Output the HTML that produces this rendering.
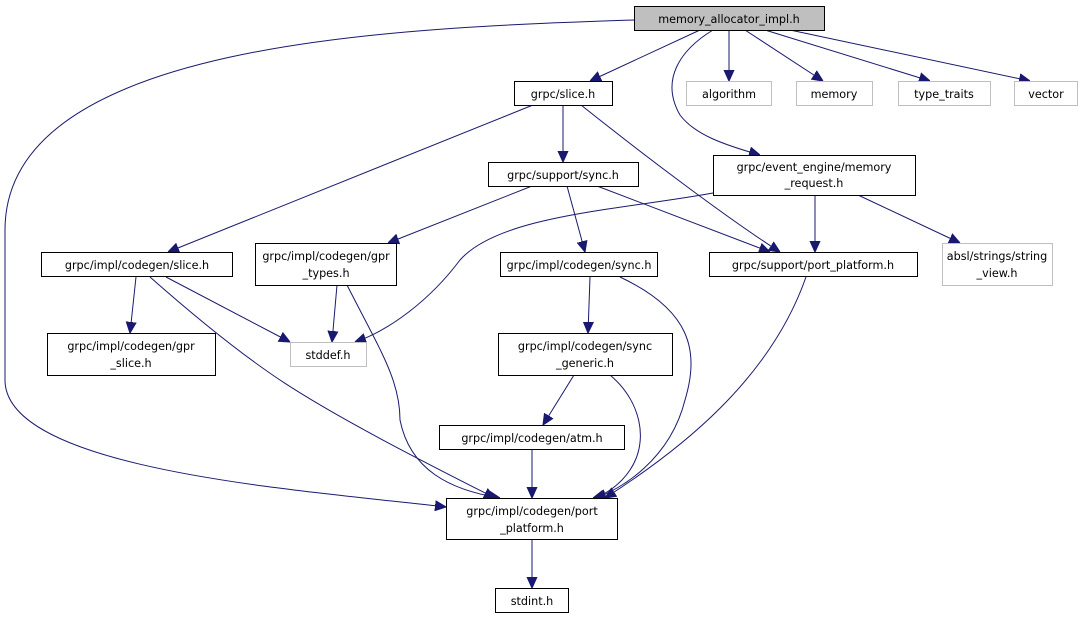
<!DOCTYPE html>
<html><head><meta charset="utf-8"><style>
html,body{margin:0;padding:0;background:#fff;}
svg{display:block}
text{font-family:"DejaVu Sans","Liberation Sans",sans-serif;font-size:11.2px;fill:#000;text-anchor:middle}
.b{fill:#fff;stroke:#000;stroke-width:1}
.g{fill:#fff;stroke:#bfbfbf;stroke-width:1}
.e{fill:none;stroke:#191970;stroke-width:1}
</style></head><body>
<svg width="1087" height="619" viewBox="0 0 1087 619">
<defs><marker id="a" viewBox="0 0 10 10" refX="10" refY="5" markerWidth="11" markerHeight="11" markerUnits="userSpaceOnUse" orient="auto"><path d="M0,0.5 L10,5 L0,9.5 z" fill="#191970" stroke="#191970"/></marker></defs>
<g class="e" marker-end="url(#a)">
<path d="M634,20 C400,28 5,40 5,230 V380 C5,470 300,490 446,507"/>
<path d="M700,30 L590,81"/>
<path d="M713,30 C680,50 660,80 680,115 C695,135 725,145 760,155"/>
<path d="M729,30 V81"/>
<path d="M745,30 L823,81"/>
<path d="M765,30 L930,81"/>
<path d="M790,30 L1030,81"/>
<path d="M563,105 V162"/>
<path d="M533,105 L168,252"/>
<path d="M581,105 C650,160 730,220 780,252"/>
<path d="M532,186 L388,243"/>
<path d="M567,186 L585,252"/>
<path d="M597,186 L770,252"/>
<path d="M713,193 C620,210 500,215 460,260 C430,300 390,330 355,342"/>
<path d="M815,195 V252"/>
<path d="M858,195 L960,243"/>
<path d="M136,277 L130,333"/>
<path d="M166,277 L290,342"/>
<path d="M150,277 C210,330 250,360 280,380 C340,420 440,470 495,498"/>
<path d="M337,285 L332,342"/>
<path d="M347,285 C380,350 400,380 400,420 C410,470 450,490 500,498"/>
<path d="M590,277 L588,333"/>
<path d="M620,277 C690,310 700,350 685,400 C670,460 620,490 595,498"/>
<path d="M806,277 C770,380 680,450 605,498"/>
<path d="M574,375 L543,425"/>
<path d="M610,375 C640,400 650,440 630,470 C620,485 605,495 593,498"/>
<path d="M532,449 V498"/>
<path d="M532,539 V588"/>
</g>
<rect x="634.5" y="6.5" width="190" height="24" fill="#bfbfbf" stroke="#000"/>
<text x="729" y="23">memory_allocator_impl.h</text>
<rect class="b" x="514.5" y="81.5" width="98" height="24"/><text x="563" y="98">grpc/slice.h</text>
<rect class="g" x="686.5" y="81.5" width="85" height="24"/><text x="729" y="98">algorithm</text>
<rect class="g" x="796.5" y="81.5" width="76" height="24"/><text x="834" y="98">memory</text>
<rect class="g" x="898.5" y="81.5" width="92" height="24"/><text x="944" y="98">type_traits</text>
<rect class="g" x="1014.5" y="81.5" width="63" height="24"/><text x="1046" y="98">vector</text>
<rect class="b" x="488.5" y="162.5" width="150" height="24"/><text x="563" y="179">grpc/support/sync.h</text>
<rect class="b" x="713.5" y="155.5" width="202" height="40"/><text x="814" y="171">grpc/event_engine/memory</text><text x="814" y="187">_request.h</text>
<rect class="b" x="41.5" y="252.5" width="191" height="24"/><text x="137" y="269">grpc/impl/codegen/slice.h</text>
<rect class="b" x="255.5" y="243.5" width="141" height="42"/><text x="326" y="260">grpc/impl/codegen/gpr</text><text x="326" y="277">_types.h</text>
<rect class="b" x="500.5" y="252.5" width="157" height="24"/><text x="579" y="269">grpc/impl/codegen/sync.h</text>
<rect class="b" x="709.5" y="252.5" width="208" height="24"/><text x="813" y="269">grpc/support/port_platform.h</text>
<rect class="g" x="942.5" y="243.5" width="110" height="42"/><text x="997" y="260">absl/strings/string</text><text x="997" y="277">_view.h</text>
<rect class="b" x="47.5" y="333.5" width="168" height="42"/><text x="131" y="350">grpc/impl/codegen/gpr</text><text x="131" y="367">_slice.h</text>
<rect class="g" x="290.5" y="342.5" width="76" height="24"/><text x="328" y="359">stddef.h</text>
<rect class="b" x="498.5" y="333.5" width="174" height="42"/><text x="585" y="350">grpc/impl/codegen/sync</text><text x="585" y="367">_generic.h</text>
<rect class="b" x="439.5" y="425.5" width="185" height="24"/><text x="532" y="442">grpc/impl/codegen/atm.h</text>
<rect class="b" x="446.5" y="498.5" width="171" height="41"/><text x="532" y="515">grpc/impl/codegen/port</text><text x="532" y="532">_platform.h</text>
<rect class="b" x="495.5" y="588.5" width="73" height="24"/><text x="532" y="605">stdint.h</text>
</svg>
</body></html>
